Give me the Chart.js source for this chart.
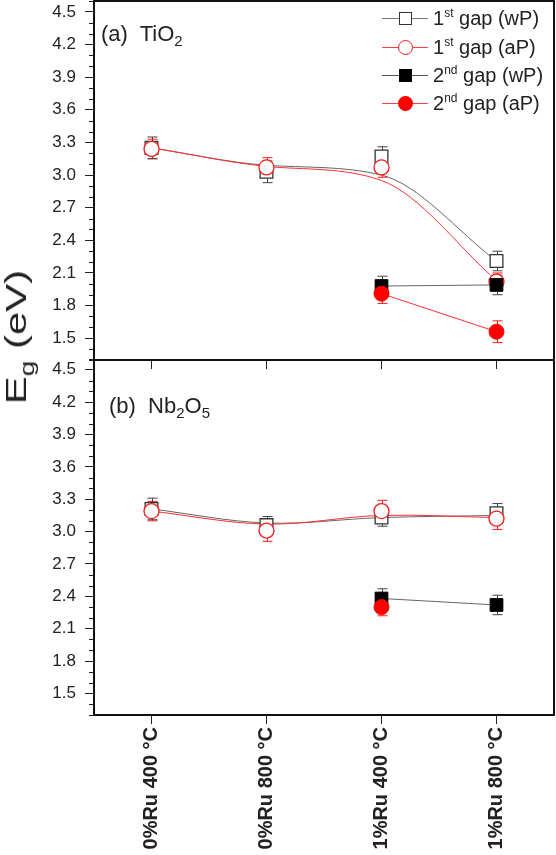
<!DOCTYPE html>
<html>
<head>
<meta charset="utf-8">
<script src="https://cdn.jsdelivr.net/npm/chart.js@4.4.0/dist/chart.umd.min.js"></script>
<style>
  body { margin: 0; background: #fff; font-family: "Liberation Sans", Arial, sans-serif; }
  #wrap { position: relative; width: 556px; height: 855px; overflow: hidden; }
  canvas { position: absolute; left: 0; }
  #topChart { top: 0; z-index: 2; }
  #botChart { top: 359px; z-index: 1; }
  .panel { position: absolute; z-index: 3; font-size: 22px; color: #222; white-space: nowrap; }
  .panel sub { font-size: 15px; vertical-align: -5px; }
  .ytitle { position: absolute; z-index: 3; left: 19px; top: 337px; font-size: 30px; color: #222;
            transform: translate(-50%, -50%) rotate(-90deg) scaleX(1.4); white-space: nowrap; }
  .ytitle sub { font-size: 20px; vertical-align: -8px; }
  .leg { position: absolute; z-index: 3; left: 382px; height: 20px; width: 172px; }
  .leg .ln { position: absolute; left: 0; top: 10px; width: 46px; height: 1px; }
  .leg .mk { position: absolute; box-sizing: border-box; }
  .leg .tx { position: absolute; left: 51px; top: -2px; font-size: 20px; color: #222; white-space: nowrap; }
  .leg .tx sup { font-size: 12px; vertical-align: 8px; }
</style>
</head>
<body>
<div id="wrap">
  <canvas id="topChart" width="556" height="372"></canvas>
  <canvas id="botChart" width="556" height="496"></canvas>
  <div class="panel" style="left:101px; top:21px;">(a)&nbsp; TiO<sub>2</sub></div>
  <div class="panel" style="left:109px; top:393px;">(b)&nbsp; Nb<sub>2</sub>O<sub>5</sub></div>
  <div class="ytitle">E<sub>g</sub> (eV)</div>

  <div class="leg" style="top:8px;">
    <div class="ln" style="background:#777"></div>
    <div class="mk" style="left:17px; top:4px; width:13px; height:13px; border:1.3px solid #333; background:#fff"></div>
    <div class="tx">1<sup>st</sup> gap (wP)</div>
  </div>
  <div class="leg" style="top:37px;">
    <div class="ln" style="background:#ff4040"></div>
    <div class="mk" style="left:16px; top:3px; width:15px; height:15px; border:1.3px solid #ff1a1a; border-radius:50%; background:#fff"></div>
    <div class="tx">1<sup>st</sup> gap (aP)</div>
  </div>
  <div class="leg" style="top:65px;">
    <div class="ln" style="background:#555"></div>
    <div class="mk" style="left:17px; top:4px; width:13px; height:13px; background:#000"></div>
    <div class="tx">2<sup>nd</sup> gap (wP)</div>
  </div>
  <div class="leg" style="top:93px;">
    <div class="ln" style="background:#ff4040"></div>
    <div class="mk" style="left:16px; top:3px; width:15px; height:15px; border-radius:50%; background:#ff0000"></div>
    <div class="tx">2<sup>nd</sup> gap (aP)</div>
  </div>
</div>

<script>
// categories on the shared x axis
const categories = ['0%Ru 400 °C', '0%Ru 800 °C', '1%Ru 400 °C', '1%Ru 800 °C'];

// y axis range (eV)
const yMin = 1.3;
const yMax = 4.6;

// (a) TiO2 - measured points
const tio2Gap1wP = [3.25, 3.03, 3.17, 2.21];
const tio2Gap1aP = [3.24, 3.07, 3.07, 2.02];
const tio2Gap2wP = [null, null, 1.98, 1.99];
const tio2Gap2aP = [null, null, 1.91, 1.56];
// (a) smoothed guide curves as they cross each category
const tio2Curve1wP = [3.25, 3.09, 3.00, 2.21];
const tio2Curve1aP = [3.25, 3.08, 2.95, 2.03];
// (a) error bars
const tio2Err1wP = [0.10, 0.10, 0.09, 0.09];
const tio2Err1aP = [0.09, 0.09, 0.09, 0.08];
const tio2Err2wP = [null, null, 0.09, 0.09];
const tio2Err2aP = [null, null, 0.09, 0.10];

// (b) Nb2O5 - measured points
const nbGap1wP = [3.21, 3.06, 3.13, 3.17];
const nbGap1aP = [3.19, 3.01, 3.19, 3.12];
const nbGap2wP = [null, null, 2.38, 2.32];
const nbGap2aP = [null, null, 2.30, null];
// (b) smoothed guide curves
const nbCurve1wP = [3.21, 3.08, 3.13, 3.15];
const nbCurve1aP = [3.19, 3.07, 3.15, 3.13];
// (b) error bars
const nbErr1wP = [0.10, 0.08, 0.08, 0.09];
const nbErr1aP = [0.09, 0.10, 0.10, 0.10];
const nbErr2wP = [null, null, 0.09, 0.09];
const nbErr2aP = [null, null, 0.08, null];

const GREY_LINE = '#666';
const RED_LINE = '#ff3030';

function isMajor(v) {
    return Math.round(v * 10) % 3 === 0;
}

// error bars, minor ticks and the frame around each panel
const extrasPlugin = {
    id: 'extras',
    beforeDatasetsDraw(chart) {
        const ctx = chart.ctx;
        const x = chart.scales.x;
        const y = chart.scales.y;
        ctx.save();
        ctx.lineWidth = 1;
        chart.data.datasets.forEach(ds => {
            if (!ds.errors) return;
            ctx.strokeStyle = ds.errColor;
            ds.data.forEach((v, i) => {
                const e = ds.errors[i];
                if (v == null || e == null) return;
                const px = Math.round(x.getPixelForValue(i)) + 0.5;
                const y1 = y.getPixelForValue(v + e);
                const y2 = y.getPixelForValue(v - e);
                ctx.beginPath();
                ctx.moveTo(px, y1); ctx.lineTo(px, y2);
                ctx.moveTo(px - 5, y1); ctx.lineTo(px + 5, y1);
                ctx.moveTo(px - 5, y2); ctx.lineTo(px + 5, y2);
                ctx.stroke();
            });
        });
        ctx.restore();
    },
    afterDraw(chart) {
        const ctx = chart.ctx;
        const y = chart.scales.y;
        const a = chart.chartArea;
        ctx.save();
        ctx.strokeStyle = '#222';
        ctx.lineWidth = 1;
        y.ticks.forEach(t => {
            if (isMajor(t.value)) return;
            const py = Math.round(y.getPixelForValue(t.value)) + 0.5;
            ctx.beginPath();
            ctx.moveTo(a.left - 5, py);
            ctx.lineTo(a.left, py);
            ctx.stroke();
        });
        ctx.lineWidth = 2;
        ctx.strokeStyle = '#111';
        ctx.strokeRect(a.left, a.top, a.right - a.left, a.bottom - a.top);
        ctx.restore();
    }
};

function buildDatasets(g1wP, g1aP, g2wP, g2aP, c1wP, c1aP, e1wP, e1aP, e2wP, e2aP, mode) {
    return [
        { label: '2nd gap (aP)', data: g2aP, errors: e2aP, errColor: '#ff2020',
          borderColor: RED_LINE, borderWidth: 1, pointStyle: 'circle', pointRadius: 7.5,
          pointBackgroundColor: '#ff0000', pointBorderColor: '#ff0000', spanGaps: false },
        { label: '2nd gap (wP)', data: g2wP, errors: e2wP, errColor: '#444',
          borderColor: GREY_LINE, borderWidth: 1, pointStyle: 'rect', pointRadius: 9,
          pointBackgroundColor: '#000', pointBorderColor: '#000', spanGaps: false },
        { label: '1st gap (aP)', data: g1aP, errors: e1aP, errColor: '#ff2020', showLine: false,
          pointStyle: 'circle', pointRadius: 7.5, pointBorderWidth: 1.3,
          pointBackgroundColor: '#fff', pointBorderColor: '#ff1a1a' },
        { label: '1st gap (wP)', data: g1wP, errors: e1wP, errColor: '#444', showLine: false,
          pointStyle: 'rect', pointRadius: 9, pointBorderWidth: 1.3,
          pointBackgroundColor: '#fff', pointBorderColor: '#333' },
        { label: 'curve aP', data: c1aP, borderColor: RED_LINE, borderWidth: 1,
          pointRadius: 0, tension: 0.35, cubicInterpolationMode: mode },
        { label: 'curve wP', data: c1wP, borderColor: GREY_LINE, borderWidth: 1,
          pointRadius: 0, tension: 0.35, cubicInterpolationMode: mode }
    ];
}

function makeChart(id, datasets, showLabels, xHeight) {
    return new Chart(document.getElementById(id), {
        type: 'line',
        data: { labels: categories, datasets: datasets },
        options: {
            responsive: false,
            animation: false,
            devicePixelRatio: 1,
            layout: { autoPadding: false, padding: { left: 0, right: 2, top: showLabels ? 0 : 1, bottom: 0 } },
            plugins: { legend: { display: false }, tooltip: { enabled: false } },
            scales: {
                x: {
                    offset: true,
                    grid: { drawOnChartArea: false, drawTicks: true, tickLength: 9, color: '#222', offset: false },
                    border: { display: true, color: '#111', width: 2 },
                    ticks: {
                        autoSkip: false,
                        minRotation: 90,
                        maxRotation: 90,
                        padding: 3,
                        color: '#222',
                        font: { family: '"Liberation Sans", Arial, sans-serif', size: 20, weight: 'bold' },
                        // the upper panel only shows the tick marks
                        callback: (v, i) => showLabels ? categories[i] : ''
                    },
                    afterFit: s => {
                        s.height = xHeight;
                        s.paddingLeft = 0; s.paddingRight = 0; s.paddingTop = 0; s.paddingBottom = 0;
                    }
                },
                y: {
                    min: yMin,
                    max: yMax,
                    grid: {
                        drawOnChartArea: false, drawTicks: true, tickLength: 9,
                        tickColor: c => isMajor(c.tick.value) ? '#222' : 'rgba(0,0,0,0)'
                    },
                    border: { display: true, color: '#111', width: 2 },
                    ticks: {
                        stepSize: 0.1,
                        autoSkip: false,
                        padding: 9,
                        color: '#222',
                        font: { family: '"Liberation Sans", Arial, sans-serif', size: 17 },
                        callback: v => isMajor(v) ? v.toFixed(1) : ''
                    },
                    afterFit: s => {
                        s.width = 94;
                        s.paddingLeft = 0; s.paddingRight = 0; s.paddingTop = 0; s.paddingBottom = 0;
                    }
                }
            }
        },
        plugins: [extrasPlugin]
    });
}

makeChart('topChart',
    buildDatasets(tio2Gap1wP, tio2Gap1aP, tio2Gap2wP, tio2Gap2aP, tio2Curve1wP, tio2Curve1aP,
                  tio2Err1wP, tio2Err1aP, tio2Err2wP, tio2Err2aP, 'monotone'),
    false, 12);

makeChart('botChart',
    buildDatasets(nbGap1wP, nbGap1aP, nbGap2wP, nbGap2aP, nbCurve1wP, nbCurve1aP,
                  nbErr1wP, nbErr1aP, nbErr2wP, nbErr2aP, 'default'),
    true, 140);
</script>
</body>
</html>
